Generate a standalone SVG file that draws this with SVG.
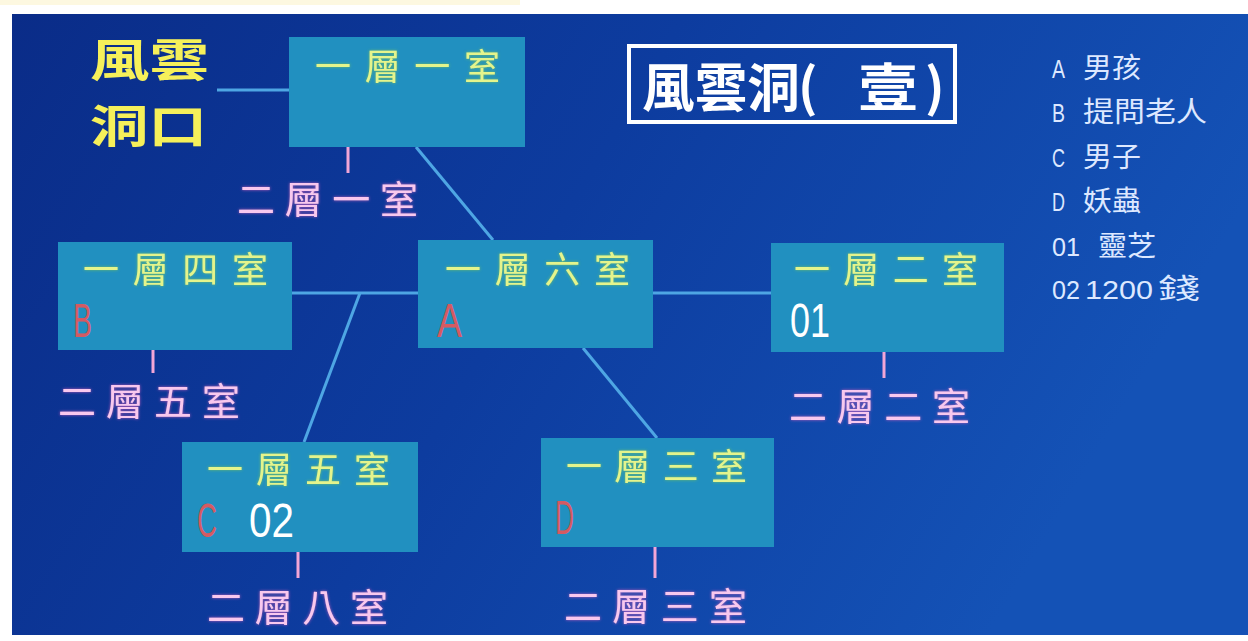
<svg xmlns="http://www.w3.org/2000/svg" width="1248" height="641" viewBox="0 0 1248 641">
<defs>
  <linearGradient id="bg" x1="0" y1="0" x2="1" y2="0.3">
    <stop offset="0" stop-color="#0a2c88"/>
    <stop offset="0.5" stop-color="#0d3c9f"/>
    <stop offset="1" stop-color="#1452b6"/>
  </linearGradient>
  <filter id="glowY" x="-10%" y="-20%" width="120%" height="140%">
    <feGaussianBlur in="SourceAlpha" stdDeviation="1.5" result="b"/>
    <feFlood flood-color="#8fd040" flood-opacity="0.7"/>
    <feComposite in2="b" operator="in" result="g"/>
    <feMerge><feMergeNode in="g"/><feMergeNode in="SourceGraphic"/></feMerge>
  </filter>
  <filter id="glowP" x="-10%" y="-20%" width="120%" height="140%">
    <feGaussianBlur in="SourceAlpha" stdDeviation="1.5" result="b"/>
    <feFlood flood-color="#e060c0" flood-opacity="0.8"/>
    <feComposite in2="b" operator="in" result="g"/>
    <feMerge><feMergeNode in="g"/><feMergeNode in="SourceGraphic"/></feMerge>
  </filter>
  <style>
    .box { fill: #2190c0; }
    .ttl { font-family: "Noto Sans CJK TC", "Noto Sans CJK SC", sans-serif; font-size: 36px; fill: #e4f48c; filter: url(#glowY); }
    .sub { font-family: "Noto Sans CJK TC", "Noto Sans CJK SC", sans-serif; font-size: 38px; fill: #f8c8ee; filter: url(#glowP); }
    .red { font-family: "Liberation Sans", Arial, sans-serif; font-size: 48px; fill: #d55a62; }
    .num { font-family: "Liberation Sans", Arial, sans-serif; font-size: 48px; fill: #ffffff; }
    .conn { stroke: #4ea6e4; stroke-width: 3; fill: none; }
    .tick { stroke: #f2a6d6; stroke-width: 3; fill: none; }
    .leg { font-family: "Liberation Sans", "Noto Sans CJK TC", sans-serif; font-size: 25px; fill: #dde8ff; }
    .legc { font-family: "Noto Sans CJK TC", "Noto Sans CJK SC", sans-serif; font-size: 28px; fill: #dde8ff; }
    .ent { font-family: "Noto Sans CJK TC", "Noto Sans CJK SC", sans-serif; font-size: 45px; font-weight: bold; fill: #f6f05a; }
    .title { font-family: "Noto Sans CJK TC", "Noto Sans CJK SC", sans-serif; font-size: 52px; font-weight: bold; fill: #ffffff; }
  </style>
</defs>

<rect x="0" y="0" width="1248" height="641" fill="#ffffff"/>
<rect x="0" y="0" width="520" height="5" fill="#fdf8e0"/>
<rect x="12" y="14" width="1236" height="621" fill="url(#bg)"/>

<g id="connectors">
  <line class="conn" x1="217" y1="90" x2="290" y2="90"/>
  <line class="conn" x1="416" y1="147" x2="493" y2="240"/>
  <line class="conn" x1="292" y1="293" x2="418" y2="293"/>
  <line class="conn" x1="653" y1="293" x2="771" y2="293"/>
  <line class="conn" x1="360" y1="293" x2="304" y2="442"/>
  <line class="conn" x1="583" y1="348" x2="657" y2="438"/>
  <line class="tick" x1="348" y1="147" x2="348" y2="173"/>
  <line class="tick" x1="153" y1="350" x2="153" y2="373"/>
  <line class="tick" x1="884" y1="352" x2="884" y2="378"/>
  <line class="tick" x1="298" y1="552" x2="298" y2="578"/>
  <line class="tick" x1="655" y1="547" x2="655" y2="578"/>
</g>

<g id="entrance">
  <text class="ent" x="90" y="77" textLength="119" lengthAdjust="spacingAndGlyphs">風雲</text>
  <text class="ent" x="90" y="143" textLength="117" lengthAdjust="spacingAndGlyphs">洞口</text>
</g>

<g id="title">
  <rect x="629" y="46" width="326" height="76" fill="none" stroke="#ffffff" stroke-width="4"/>
  <text class="title" x="642" y="107" textLength="158" lengthAdjust="spacingAndGlyphs">風雲洞</text>
  <text class="title" x="798" y="106" font-family="Liberation Sans, sans-serif">(</text>
  <text class="title" x="858" y="107" textLength="60" lengthAdjust="spacingAndGlyphs">壹</text>
  <text class="title" x="925" y="106" font-family="Liberation Sans, sans-serif">)</text>
</g>

<g id="legend">
  <text class="leg" x="1052" y="78" textLength="13" lengthAdjust="spacingAndGlyphs">A</text>
  <text class="legc" x="1083" y="78" textLength="58" lengthAdjust="spacingAndGlyphs">男孩</text>
  <text class="leg" x="1052" y="122" textLength="13" lengthAdjust="spacingAndGlyphs">B</text>
  <text class="legc" x="1083" y="122" textLength="124" lengthAdjust="spacingAndGlyphs">提問老人</text>
  <text class="leg" x="1052" y="167" textLength="13" lengthAdjust="spacingAndGlyphs">C</text>
  <text class="legc" x="1083" y="167" textLength="58" lengthAdjust="spacingAndGlyphs">男子</text>
  <text class="leg" x="1052" y="211" textLength="13" lengthAdjust="spacingAndGlyphs">D</text>
  <text class="legc" x="1083" y="211" textLength="58" lengthAdjust="spacingAndGlyphs">妖蟲</text>
  <text class="leg" x="1052" y="256" textLength="28" lengthAdjust="spacingAndGlyphs">01</text>
  <text class="legc" x="1098" y="256" textLength="58" lengthAdjust="spacingAndGlyphs">靈芝</text>
  <text class="leg" x="1052" y="299" textLength="28" lengthAdjust="spacingAndGlyphs">02</text>
  <text class="leg" x="1085" y="299" textLength="68" lengthAdjust="spacingAndGlyphs">1200</text>
  <text class="legc" x="1158" y="299" textLength="42" lengthAdjust="spacingAndGlyphs">錢</text>
</g>

<g id="room1-1">
  <rect class="box" x="289" y="37" width="236" height="110"/>
  <text class="ttl" x="315" y="80" textLength="185" lengthAdjust="spacing">一層一室</text>
</g>
<text id="room2-1" class="sub" x="237" y="213" textLength="181" lengthAdjust="spacing">二層一室</text>

<g id="room1-4">
  <rect class="box" x="58" y="242" width="234" height="108"/>
  <text class="ttl" x="83" y="283" textLength="185" lengthAdjust="spacing">一層四室</text>
  <text class="red" x="73" y="337" textLength="19" lengthAdjust="spacingAndGlyphs">B</text>
</g>
<text id="room2-5" class="sub" x="58" y="415" textLength="182" lengthAdjust="spacing">二層五室</text>

<g id="room1-6">
  <rect class="box" x="418" y="240" width="235" height="108"/>
  <text class="ttl" x="445" y="283" textLength="185" lengthAdjust="spacing">一層六室</text>
  <text class="red" x="437" y="337" textLength="25" lengthAdjust="spacingAndGlyphs">A</text>
</g>

<g id="room1-2">
  <rect class="box" x="771" y="243" width="233" height="109"/>
  <text class="ttl" x="794" y="283" textLength="184" lengthAdjust="spacing">一層二室</text>
  <text class="num" x="790" y="337" textLength="40" lengthAdjust="spacingAndGlyphs">01</text>
</g>
<text id="room2-2" class="sub" x="789" y="420" textLength="181" lengthAdjust="spacing">二層二室</text>

<g id="room1-5">
  <rect class="box" x="182" y="442" width="236" height="110"/>
  <text class="ttl" x="207" y="483" textLength="183" lengthAdjust="spacing">一層五室</text>
  <text class="red" x="197" y="537" textLength="20" lengthAdjust="spacingAndGlyphs">C</text>
  <text class="num" x="249" y="537" textLength="45" lengthAdjust="spacingAndGlyphs">02</text>
</g>
<text id="room2-8" class="sub" x="207" y="621" textLength="181" lengthAdjust="spacing">二層八室</text>

<g id="room1-3">
  <rect class="box" x="541" y="438" width="233" height="109"/>
  <text class="ttl" x="566" y="480" textLength="181" lengthAdjust="spacing">一層三室</text>
  <text class="red" x="555" y="534" textLength="19" lengthAdjust="spacingAndGlyphs">D</text>
</g>
<text id="room2-3" class="sub" x="564" y="620" textLength="183" lengthAdjust="spacing">二層三室</text>
</svg>
